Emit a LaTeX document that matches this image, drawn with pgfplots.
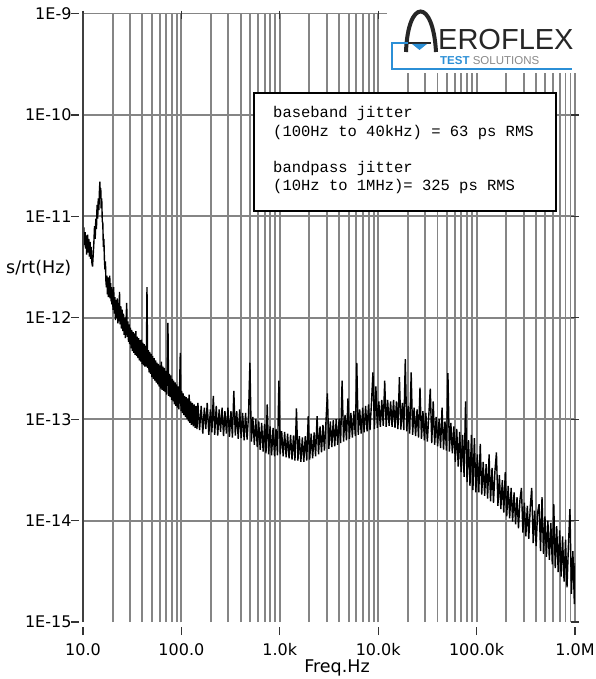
\documentclass[border=0pt]{standalone}
\usepackage{pgfplots}
\pgfplotsset{compat=1.18}
\usepackage{pgfplotstable}
\usepackage{fontspec}
\setmainfont{DejaVu Sans}
\newfontfamily\monofont{Liberation Mono}
\newfontfamily\logofont{Liberation Sans}
\definecolor{gridgray}{HTML}{858585}
\definecolor{logoblue}{HTML}{2B8FD6}
\definecolor{logogray}{HTML}{8A8A8A}

\pgfplotstableread{
f y
10.0 9.5e-12
10.1 6.0e-12
10.2 7.8e-12
10.35 5.2e-12
10.5 7.0e-12
10.6 4.8e-12
10.75 6.5e-12
10.9 4.2e-12
11.0 6.0e-12
11.15 6.6e-12
11.3 4.4e-12
11.45 6.0e-12
11.6 4.0e-12
11.8 5.6e-12
11.95 3.8e-12
12.1 5.0e-12
12.3 3.5e-12
12.5 3.2e-12
12.7 4.2e-12
12.9 5.5e-12
13.1 8.0e-12
13.3 6.0e-12
13.5 9.5e-12
13.7 7.5e-12
13.9 1.3e-11
14.1 9.5e-12
14.3 1.5e-11
14.5 1.15e-11
14.7 1.8e-11
14.85 2.2e-11
15.0 1.5e-11
15.15 1.9e-11
15.3 1.2e-11
15.5 1.5e-11
15.7 9.0e-12
15.9 8.5e-12
16.1 5.0e-12
16.3 6.0e-12
16.5 3.8e-12
16.7 3.0e-12
16.9 3.6e-12
17.1 2.3e-12
17.3 2.0e-12
17.5 2.6e-12
17.7 1.7e-12
17.9 2.5e-12
18.1 1.6e-12
18.3 2.4e-12
18.5 1.8e-12
18.7 2.6e-12
18.9 1.55e-12
19.1 2.2e-12
19.3 1.45e-12
19.5 2.0e-12
19.7 1.35e-12
19.9 1.9e-12
20.2 1.2e-12
20.5 2.0e-12
20.8 1.1e-12
21.1 1.6e-12
21.4 9.5e-13
21.7 1.5e-12
22.0 1.0e-12
22.3 1.55e-12
22.6 8.8e-13
22.9 1.4e-12
23.2 9.2e-13
23.5 1.8e-12
23.8 8.6e-13
24.2 1.3e-12
24.6 7.8e-13
25.0 1.2e-12
25.4 7.4e-13
25.8 1.1e-12
26.2 6.8e-13
26.6 1.0e-12
27.0 6.3e-13
27.4 9.5e-13
27.8 1.4e-12
28.2 6.5e-13
28.6 9.2e-13
29.0 5.8e-13
29.4 8.6e-13
29.8 5.5e-13
30.3 8.0e-13
30.8 5.0e-13
31.3 7.6e-13
31.8 4.7e-13
32.3 7.2e-13
32.8 4.5e-13
33.3 7.0e-13
33.8 4.3e-13
34.4 7.4e-13
35.0 4.2e-13
35.6 6.5e-13
36.2 4.0e-13
36.8 6.3e-13
37.4 3.8e-13
38.0 6.0e-13
38.6 3.7e-13
39.2 6.1e-13
39.8 3.5e-13
40.5 5.7e-13
41.2 3.4e-13
41.9 5.5e-13
42.6 3.3e-13
43.3 5.3e-13
44.0 3.3e-13
44.7 2.0e-12
45.4 3.2e-13
46.1 4.8e-13
46.9 2.9e-13
47.7 4.6e-13
48.5 2.8e-13
49.3 4.4e-13
50.1 2.6e-13
51.0 4.2e-13
51.9 2.5e-13
52.8 4.0e-13
53.7 2.4e-13
54.6 3.8e-13
55.5 2.3e-13
56.5 3.6e-13
57.5 2.2e-13
58.5 3.5e-13
59.5 2.1e-13
60.5 3.4e-13
61.6 2.0e-13
62.7 3.7e-13
63.8 1.95e-13
64.9 3.3e-13
66.0 1.9e-13
67.1 3.2e-13
68.2 1.85e-13
69.4 3.0e-13
70.6 1.75e-13
71.8 2.9e-13
73.0 8.9e-13
74.2 1.7e-13
75.5 2.8e-13
76.8 1.65e-13
78.1 2.7e-13
79.4 1.55e-13
80.8 2.5e-13
82.2 1.5e-13
83.6 2.4e-13
85.0 1.4e-13
86.5 2.3e-13
88.0 1.35e-13
89.5 2.2e-13
91.0 1.3e-13
92.6 2.1e-13
94.2 1.25e-13
95.8 2.0e-13
97.4 4.5e-13
99.1 1.2e-13
100.8 1.9e-13
102.5 1.15e-13
104 1.8e-13
106 1.1e-13
108 1.7e-13
110 1.05e-13
112 1.65e-13
114 1.0e-13
116 1.6e-13
118 9.5e-14
120 1.75e-13
122 9.2e-14
124 1.5e-13
126 8.8e-14
129 1.45e-13
132 8.5e-14
135 1.4e-13
138 8.2e-14
141 1.35e-13
144 8.0e-14
147 1.45e-13
153 7.8e-14
159 1.35e-13
165 7.2e-14
171 1.3e-13
177 8.0e-14
183 1.45e-13
190 7.0e-14
197 1.25e-13
204 7.4e-14
211 1.7e-13
218 7.0e-14
226 1.35e-13
234 6.9e-14
242 1.25e-13
250 7.5e-14
259 1.3e-13
268 6.8e-14
277 1.2e-13
287 7.2e-14
297 1.3e-13
308 6.7e-14
319 1.2e-13
330 6.6e-14
341 1.9e-13
353 6.9e-14
365 1.2e-13
378 6.4e-14
391 1.25e-13
405 6.5e-14
419 1.15e-13
434 6.2e-14
449 1.15e-13
465 6.3e-14
481 1.1e-13
497 3.6e-13
514 6.0e-14
532 1.05e-13
551 5.6e-14
570 1.0e-13
590 5.3e-14
611 9.5e-14
632 5.0e-14
654 9.2e-14
677 4.8e-14
700 9.0e-14
724 4.6e-14
745 1.4e-13
770 4.5e-14
797 8.5e-14
825 4.4e-14
854 8.2e-14
884 4.3e-14
915 8.0e-14
947 4.4e-14
980 2.4e-13
1010 4.5e-14
1045 7.6e-14
1082 4.3e-14
1120 7.5e-14
1160 4.2e-14
1200 7.2e-14
1242 4.1e-14
1286 7.0e-14
1331 4.0e-14
1378 6.9e-14
1426 3.9e-14
1476 1.28e-13
1528 3.9e-14
1582 6.8e-14
1637 3.8e-14
1694 6.6e-14
1754 3.8e-14
1815 6.8e-14
1879 3.9e-14
1945 1.07e-13
2013 4.0e-14
2084 7.2e-14
2157 4.1e-14
2233 7.4e-14
2311 4.3e-14
2392 1.07e-13
2476 4.5e-14
2563 8.5e-14
2653 4.7e-14
2746 8.8e-14
2842 4.9e-14
2942 9.2e-14
3045 1.8e-13
3152 5.1e-14
3262 9.5e-14
3376 5.3e-14
3494 9.8e-14
3617 5.4e-14
3743 1.0e-13
3874 5.6e-14
4010 1.02e-13
4150 5.8e-14
4295 2.4e-13
4445 6.0e-14
4600 1.1e-13
4761 6.2e-14
4928 1.6e-13
5100 6.4e-14
5279 1.15e-13
5464 6.6e-14
5655 1.2e-13
5853 6.8e-14
6058 3.6e-13
6270 7.0e-14
6489 1.25e-13
6716 7.2e-14
6951 1.3e-13
7194 7.4e-14
7446 1.35e-13
7706 7.6e-14
7976 1.4e-13
8255 7.8e-14
8544 1.45e-13
8843 2.9e-13
9152 8.0e-14
9473 2.1e-13
9804 8.2e-14
10147 1.5e-13
10502 8.4e-14
10870 1.55e-13
11250 8.6e-14
11644 2.4e-13
12051 8.4e-14
12473 1.55e-13
12910 8.6e-14
13362 1.5e-13
13829 8.4e-14
14313 1.55e-13
14814 8.2e-14
15333 1.5e-13
15870 8.0e-14
16425 2.6e-13
17000 7.9e-14
17595 1.45e-13
18211 7.8e-14
18848 3.9e-13
19508 7.6e-14
20191 1.35e-13
20898 7.2e-14
21629 2.9e-13
22386 7.0e-14
23170 1.3e-13
23981 6.8e-14
24820 1.25e-13
25689 6.6e-14
26588 2.05e-13
27518 6.4e-14
28481 1.2e-13
29478 6.2e-14
30510 1.15e-13
31578 6.0e-14
32683 1.1e-13
33827 2.0e-13
35011 5.8e-14
36236 1.5e-13
37504 5.6e-14
38817 1.05e-13
40176 5.4e-14
41582 1.0e-13
43037 5.2e-14
44543 1.3e-13
46102 5.0e-14
47716 9.5e-14
49386 4.9e-14
51114 2.85e-13
52903 4.8e-14
54755 9.2e-14
56671 4.6e-14
58654 8.5e-14
60707 3.8e-14
62832 8.0e-14
65031 3.4e-14
67307 7.5e-14
69663 3.0e-14
72101 7.0e-14
74625 2.7e-14
77237 1.5e-13
79940 2.4e-14
82738 6.2e-14
85634 2.2e-14
88631 7.0e-14
91733 2.0e-14
94944 6.5e-14
98267 1.9e-14
101700 4.5e-14
105260 1.9e-14
108944 5.7e-14
112757 1.8e-14
116704 3.8e-14
120788 1.75e-14
125016 3.6e-14
129392 1.65e-14
133920 4.5e-14
138607 1.55e-14
143459 3.3e-14
148480 1.5e-14
153677 3.1e-14
159055 4.7e-14
164622 1.4e-14
170384 2.8e-14
176347 1.3e-14
182520 2.5e-14
188908 1.2e-14
195520 3.0e-14
202363 1.1e-14
209446 2.2e-14
216776 1.05e-14
224363 2.1e-14
232216 9.8e-15
240344 1.9e-14
248756 9.2e-15
257462 1.7e-14
266474 8.4e-15
275800 1.6e-14
285453 2.1e-14
295444 7.6e-15
305784 1.5e-14
316487 7.0e-15
327564 1.4e-14
339029 6.6e-15
350895 1.35e-14
363176 2.1e-14
375887 6.0e-15
389043 1.25e-14
402660 5.6e-15
416753 1.2e-14
431339 1.45e-14
446436 5.0e-15
462061 1.7e-14
478233 4.7e-15
494971 1.1e-14
512295 4.4e-15
530225 1.0e-14
548783 4.1e-15
567990 9.5e-15
587870 3.7e-15
608445 1.45e-14
629741 3.4e-15
651781 8.8e-15
674594 3.1e-15
698204 8.0e-15
722641 2.8e-15
747933 7.0e-15
774111 2.5e-15
801205 6.5e-15
829247 2.2e-15
858270 5.8e-15
888310 1.3e-14
919401 1.9e-15
951580 5.0e-15
984885 1.5e-15
1000000 3.8e-15
}\jitter

\begin{document}
\begin{tikzpicture}[x=1pt,y=1pt]
\useasboundingbox (0,0) rectangle (595,679);
\begin{axis}[
  name=ax, at={(83pt,57pt)}, anchor=south west,
  scale only axis, width=492pt, height=608.5pt,
  xmode=log, ymode=log,
  xmin=10, xmax=1e6, ymin=1e-15, ymax=1e-9,
  axis line style={draw=none},
  xtick={10,100,1000,10000,100000,1000000},
  xticklabels={10.0,100.0,1.0k,10.0k,100.0k,1.0M},
  ytick={1e-14,1e-13,1e-12,1e-11,1e-10,1e-9},
  yticklabels={1E-14,1E-13,1E-12,1E-11,1E-10,1E-9},
  extra y ticks={1e-15}, extra y tick labels={1E-15},
  extra y tick style={grid=none},
  xmajorgrids=true, xminorgrids=true, ymajorgrids=true, yminorgrids=false,
  major grid style={draw=gridgray, line width=1.9pt},
  minor grid style={draw=gridgray, line width=1.9pt},
  tick align=outside,
  major tick length=8pt, minor tick length=0pt,
  tick style={draw=black!80, line width=1.2pt},
  xtick style={yshift=-5pt},
  ytick style={xshift=-4pt},
  ticklabel style={font=\fontsize{16}{19}\selectfont},
  xticklabel style={yshift=-10pt},
]
\addplot[black, line width=1.4pt, line join=bevel] table[x=f, y=y] {\jitter};
\end{axis}
\draw[black!75, line width=1.8pt] (ax.south west) -- (ax.north west);
% logo area
\fill[white] (387,606) rectangle (595,679);
\draw[line width=4pt, black!85] (406,627) .. controls (408,681) and (433,681) .. (436,627);
\draw[logoblue, line width=1.5pt] (392,636) -- (408,636);
\draw[logoblue, line width=1.5pt] (392,636.7) -- (392,610) -- (572,610);
\draw[black!85, line width=2pt] (408,636) -- (431,636);
\fill[logoblue] (412,635) -- (427,635) -- (419.5,629) -- cycle;
\node[anchor=base west, inner sep=0pt, font=\logofont\fontsize{29}{30}\selectfont, text=black!85] at (438,629) {EROFLEX};
\node[anchor=base west, inner sep=0pt, font=\logofont\fontsize{11.5}{12}\selectfont] at (440,614) {\textcolor{logoblue}{\bfseries TEST} \textcolor{logogray}{SOLUTIONS}};
% text box
\draw[line width=1.6pt, fill=white] (254,586) rectangle (556,468);
\begin{scope}[every node/.style={anchor=base west, inner sep=0pt, font=\monofont\fontsize{15.5}{18}\selectfont}]
\node at (273,561) {baseband jitter};
\node at (273,542) {(100Hz to 40kHz) = 63 ps RMS};
\node at (273,506) {bandpass jitter};
\node at (273,488) {(10Hz to 1MHz)= 325 ps RMS};
\end{scope}
% axis labels
\node[anchor=west, inner sep=0pt, font=\fontsize{17.5}{20}\selectfont] at (6,411) {s/rt(Hz)};
\node[anchor=base, inner sep=0pt, font=\fontsize{17.5}{20}\selectfont] at (337,6) {Freq.Hz};
\end{tikzpicture}
\end{document}
